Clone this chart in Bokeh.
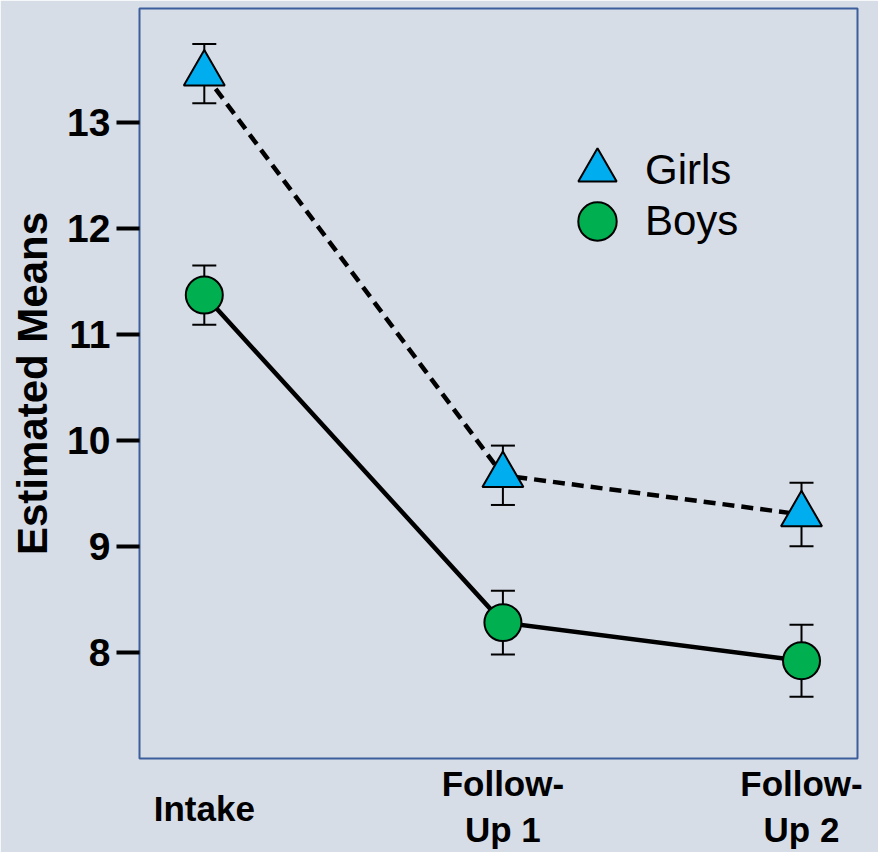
from bokeh.plotting import figure
from bokeh.models import (ColumnDataSource, Range1d, FixedTicker, Whisker, TeeHead,
                          Legend, LegendItem, LinearAxis)
from bokeh.embed import file_html
from bokeh.resources import INLINE

# ---- data ----
time_labels = ["Intake", "Follow-\nUp 1", "Follow-\nUp 2"]
time_pos = [0, 1, 2]
girls_mean = [13.46, 9.67, 9.30]
girls_err = [0.28, 0.28, 0.30]
boys_mean = [11.37, 8.28, 7.92]
boys_err = [0.28, 0.30, 0.34]
y_ticks = [8, 9, 10, 11, 12, 13]

BG = "#d6dde7"
FONT = "Liberation Sans"
GIRLS_COLOR = "#00aeef"
BOYS_COLOR = "#00b050"

p = figure(width=878, height=852, output_backend="svg", toolbar_location=None,
           x_range=Range1d(-0.217, 2.1875), y_range=Range1d(6.998, 14.074),
           x_axis_location=None,
           min_border_left=139, min_border_right=21, min_border_top=8,
           min_border_bottom=94,
           background_fill_color=BG, border_fill_color=BG,
           outline_line_color="#3c5e9c", outline_line_width=2)
p.grid.visible = False

yax = p.yaxis[0]
yax.ticker = FixedTicker(ticks=y_ticks)
yax.axis_line_color = None
yax.minor_tick_line_color = None
yax.major_tick_line_color = "black"
yax.major_tick_line_width = 4
yax.major_tick_out = 23
yax.major_tick_in = 0
yax.major_label_standoff = 6
yax.major_label_text_font = FONT
yax.major_label_text_font_size = "39px"
yax.major_label_text_font_style = "bold"
yax.major_label_text_color = "black"
yax.axis_label = "Estimated Means"
yax.axis_label_text_font = FONT
yax.axis_label_text_font_size = "42px"
yax.axis_label_text_font_style = "bold"
yax.axis_label_text_color = "black"
yax.axis_label_standoff = 8


def make_xaxis(idx, standoff):
    ax = LinearAxis(ticker=FixedTicker(ticks=[time_pos[i] for i in idx]),
                    major_label_overrides={time_pos[i]: time_labels[i] for i in idx})
    ax.axis_line_color = None
    ax.major_tick_line_color = None
    ax.minor_tick_line_color = None
    ax.major_tick_out = 0
    ax.major_tick_in = 0
    ax.major_label_standoff = standoff
    ax.major_label_text_font = FONT
    ax.major_label_text_font_size = "35px"
    ax.major_label_text_font_style = "bold"
    ax.major_label_text_color = "black"
    ax.major_label_text_line_height = 1.2
    return ax


p.add_layout(make_xaxis([0], 30), "below")
p.add_layout(make_xaxis([1, 2], -67), "below")

gsrc = ColumnDataSource(dict(x=time_pos, y=girls_mean,
                             up=[m + e for m, e in zip(girls_mean, girls_err)],
                             lo=[m - e for m, e in zip(girls_mean, girls_err)]))
bsrc = ColumnDataSource(dict(x=time_pos, y=boys_mean,
                             up=[m + e for m, e in zip(boys_mean, boys_err)],
                             lo=[m - e for m, e in zip(boys_mean, boys_err)]))

p.line('x', 'y', source=gsrc, line_color="black", line_width=4.5, line_dash="12 7")
p.line('x', 'y', source=bsrc, line_color="black", line_width=4.5)

for src in (gsrc, bsrc):
    w = Whisker(base='x', upper='up', lower='lo', source=src,
                line_color="black", line_width=2,
                upper_head=TeeHead(size=24, line_width=2, line_color="black"),
                lower_head=TeeHead(size=24, line_width=2, line_color="black"))
    p.add_layout(w)

g_r = p.scatter('x', 'y', source=gsrc, marker="triangle", size=41,
                fill_color=GIRLS_COLOR, line_color="black", line_width=2)
b_r = p.scatter('x', 'y', source=bsrc, marker="circle", size=37,
                fill_color=BOYS_COLOR, line_color="black", line_width=2)


def make_legend(label, renderer, loc):
    return Legend(items=[LegendItem(label=label, renderers=[renderer])],
                  location=loc, glyph_width=96, glyph_height=96,
                  padding=0, margin=0, label_standoff=0,
                  label_text_font=FONT, label_text_font_size="42px",
                  label_text_color="black",
                  background_fill_alpha=0, border_line_color=None)


p.add_layout(make_legend("Girls", g_r, (410, 540)))
p.add_layout(make_legend("Boys", b_r, (410, 489)))

open("out.html", "w").write(file_html(p, INLINE))
